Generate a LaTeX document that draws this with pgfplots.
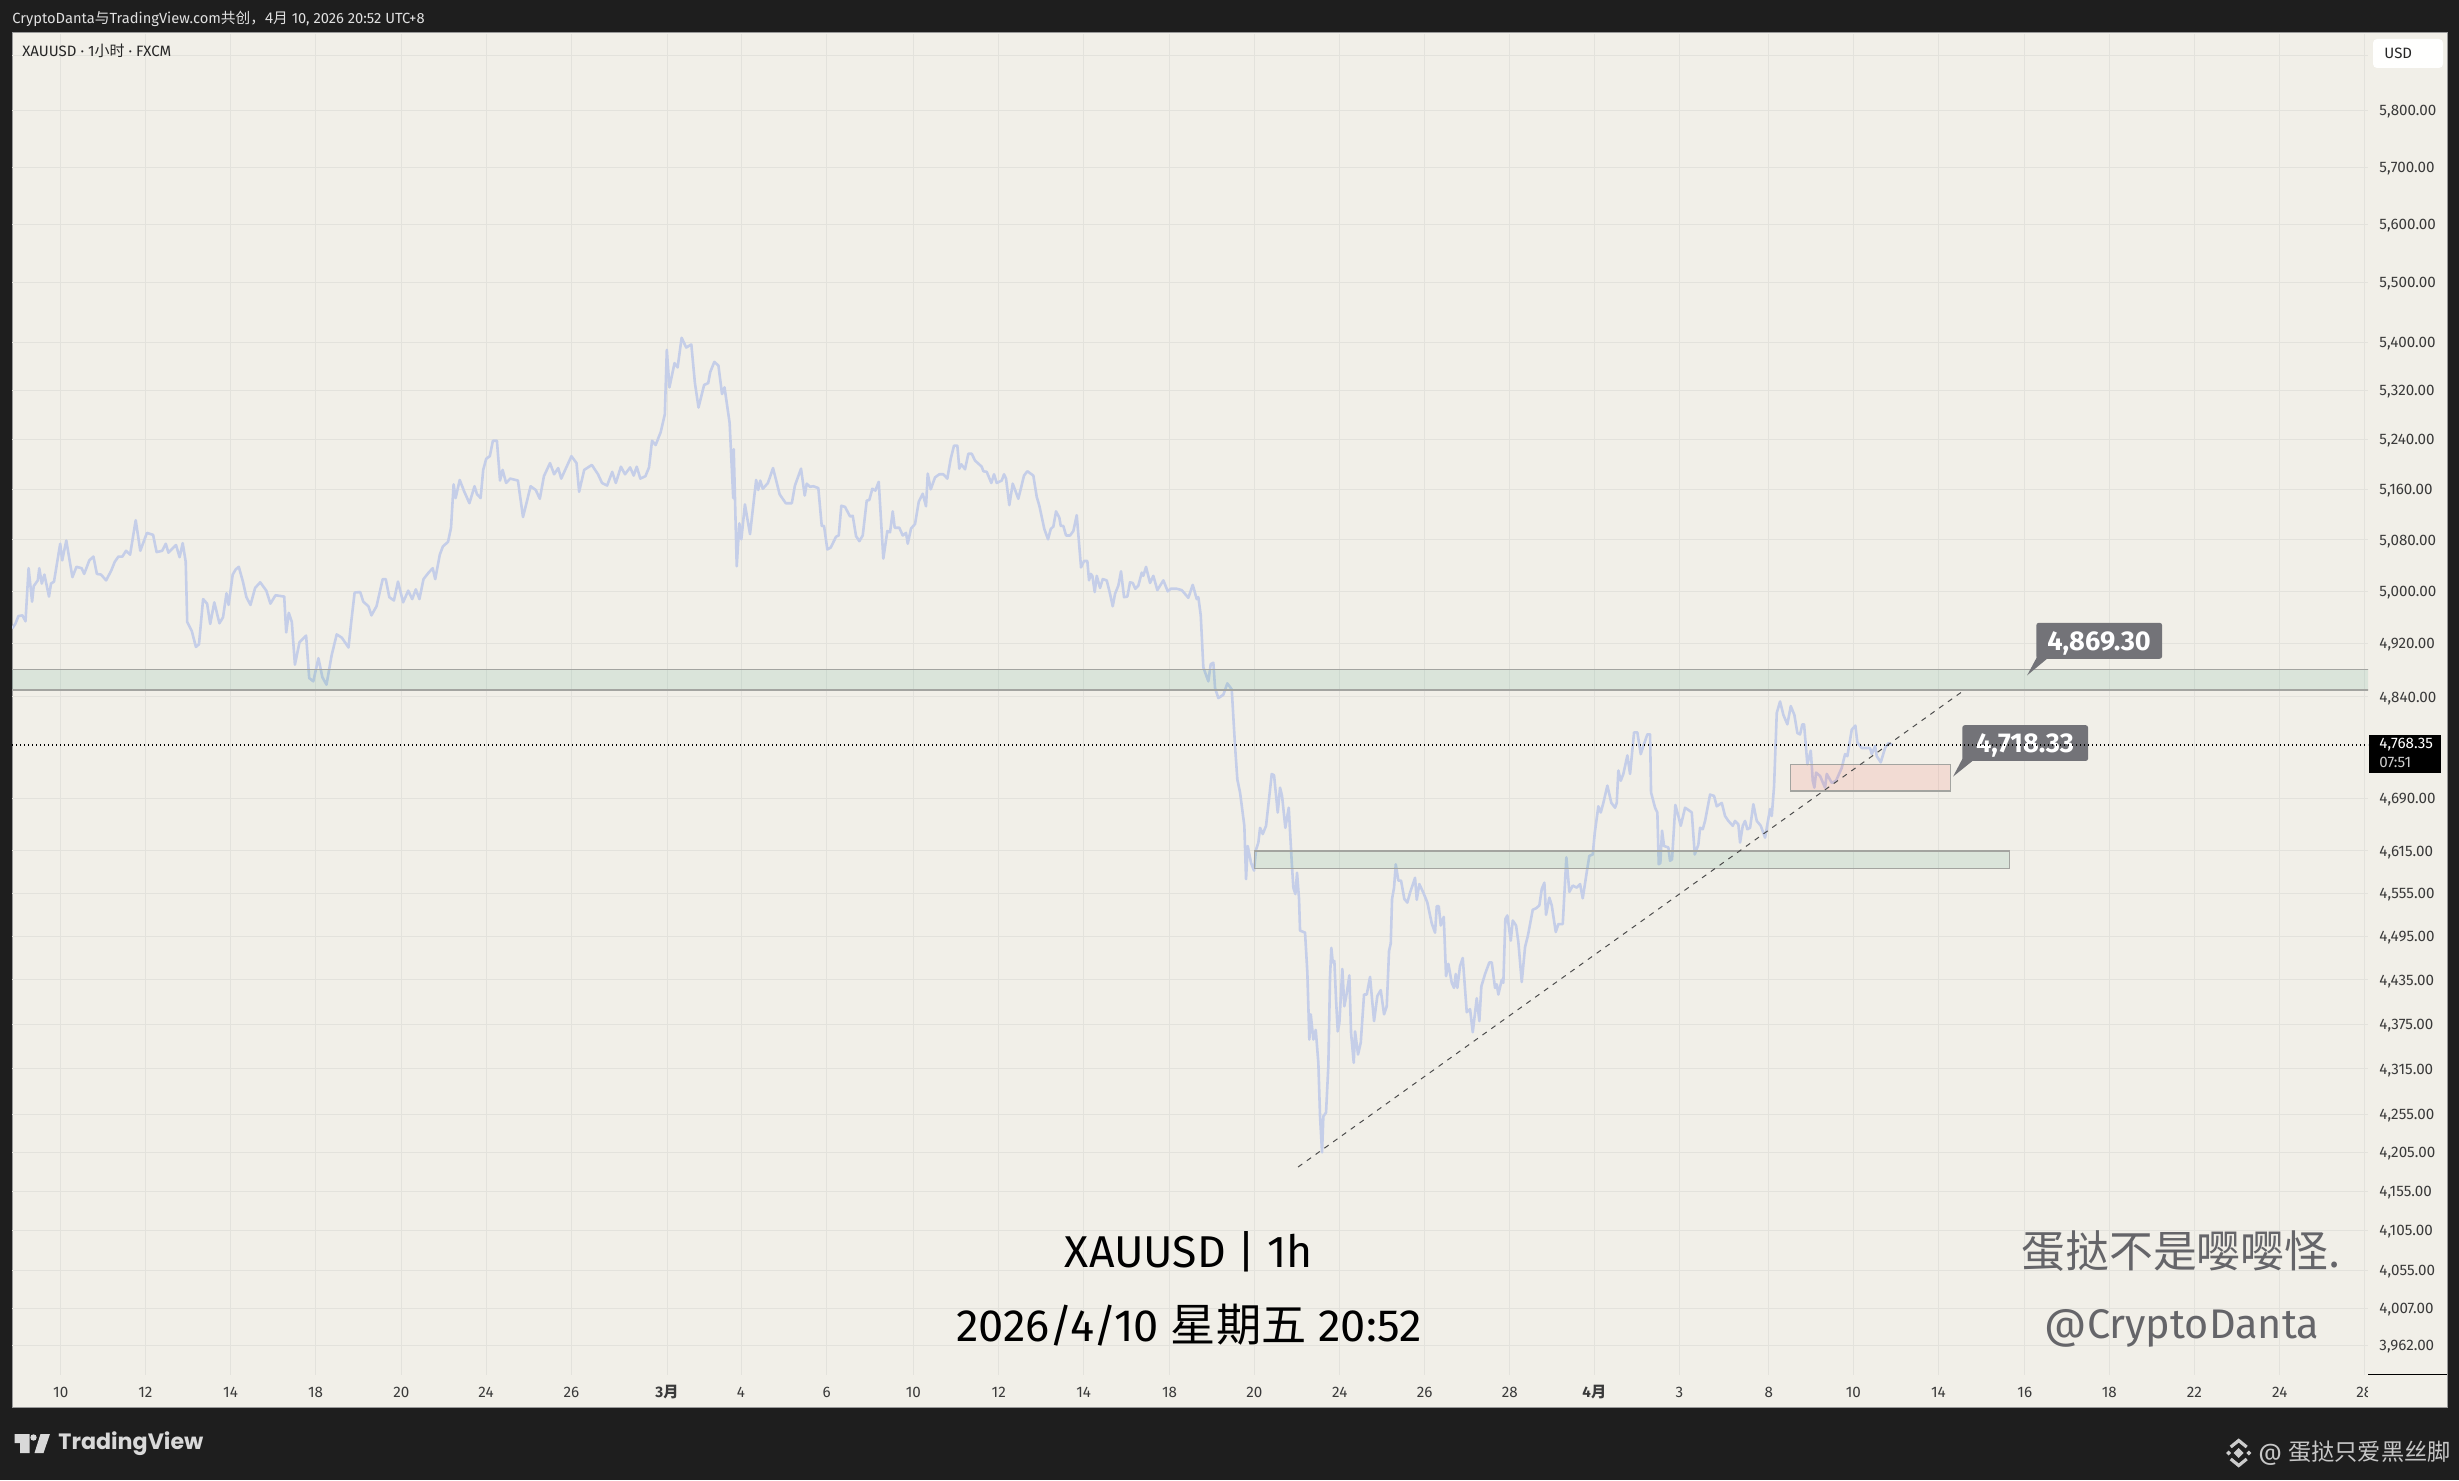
\documentclass[border=0pt]{standalone}
\usepackage{pgfplots}
\usepackage{pgfplotstable}
\usepackage{fontspec}
\pgfplotsset{compat=1.18}
\setmainfont{Fira Sans}
\newfontfamily\cjk{Noto Sans CJK SC}
\newfontfamily\tvfont{Poppins}
\definecolor{dark}{HTML}{1E1E1E}
\definecolor{pane}{HTML}{F1EFE8}
\definecolor{gridc}{HTML}{E3E2DC}
\definecolor{linec}{HTML}{C5CEE8}
\definecolor{zoneedge}{HTML}{A3A4A0}
\definecolor{zonegreen}{HTML}{46A082}
\definecolor{callout}{HTML}{737378}
\definecolor{wm}{HTML}{656569}
\definecolor{tick}{HTML}{3A3A3A}
\pgfplotstableread{
x y
12.2 4943
15.3 4950
18.4 4962
22.4 4963
25.5 4954
28.6 5036
32.1 4984
33.7 5008
37.8 5017
39.3 5036
41.8 5012
44.4 5026
49 4992
51 5012
54 5015
60.2 5074
62.2 5048
66.3 5079
72.4 5022
76.5 5038
81.6 5036
84.2 5027
89.3 5048
93.4 5054
96.9 5027
101 5026
106.1 5017
111.2 5032
114.8 5046
118.4 5054
122.4 5054
126 5063
130.1 5057
135.7 5111
140.3 5063
146.9 5091
153.1 5088
156.6 5061
162.2 5063
165.8 5074
168.4 5060
176 5072
179.6 5053
182.7 5075
185.7 5046
187.2 4953
191.8 4939
195.9 4915
199 4919
203.1 4988
207.1 4981
210.2 4950
214.3 4983
219.4 4951
223 4960
226.5 4997
228.6 4979
232.7 5026
235.7 5034
238.8 5038
242.9 5015
246.4 4991
250.5 4979
255.1 5005
260.2 5014
266.3 5001
270.4 4981
275.5 4994
284.2 4992
286.2 4937
288.8 4967
291.8 4953
294.9 4888
299.5 4922
306.1 4932
309.2 4868
313.3 4863
318.4 4898
322.4 4869
326.5 4858
331.6 4902
336.7 4934
341.8 4929
348.5 4914
351 4950
354.6 4998
360.2 4999
363.3 4984
368.4 4977
371.4 4963
376.5 4977
382.7 5019
385.7 5019
389.3 4991
393.9 4986
398 5015
403.1 4983
408.2 5001
412.2 4988
415.8 5003
419.4 4988
423.5 5019
428.6 5029
432.7 5036
435.2 5019
439.8 5057
442.9 5070
448 5077
451 5099
453.6 5168
455.6 5146
459.7 5175
464.3 5156
469.4 5138
474.5 5165
477 5152
480.6 5146
483.2 5191
486.2 5209
489.8 5213
492.9 5238
496.9 5238
500 5174
502.6 5191
506.1 5170
510.2 5177
517.9 5174
523 5116
530.6 5165
535.7 5159
539.8 5145
543.9 5181
550 5202
554.1 5184
558.2 5194
561.2 5177
571.4 5213
576.5 5202
579.1 5156
584.2 5191
591.8 5199
598 5184
602 5170
607.1 5166
612.2 5188
615.8 5170
620.9 5196
625 5184
630.1 5195
633.7 5182
636.7 5196
640.3 5177
645.4 5181
649 5195
652 5238
655.6 5231
660.7 5252
664.8 5281
666.8 5387
669.4 5325
674.5 5365
677.6 5358
681.6 5407
686.2 5391
691.3 5396
694.9 5332
698.5 5292
704.1 5329
708.2 5332
710.2 5350
714.3 5367
718.4 5361
722 5314
724.5 5325
729.6 5267
733.2 5146
733.7 5224
736.7 5039
739.3 5106
741.3 5081
744.9 5136
750 5089
756.1 5175
758.2 5159
760.2 5174
762.8 5161
767.9 5170
773 5194
779.6 5152
785.7 5138
791.8 5138
794.9 5166
801 5193
804.7 5150
806.7 5169
810 5164
813.3 5165
818.3 5162
821.7 5102
824 5102
827.3 5065
830.7 5068
836 5085
838.7 5087
841.3 5134
845 5132
850 5117
852.7 5118
856 5086
859.3 5078
862.7 5087
866.7 5142
869.3 5143
872.3 5161
875.3 5158
878.7 5172
883.3 5051
887.3 5094
890 5092
892.7 5125
894.7 5099
899.3 5099
902.7 5087
906 5091
907.7 5074
911 5098
915 5105
918.7 5140
922.7 5153
926 5133
927.7 5185
930.7 5160
935 5179
939.3 5184
943.3 5184
947.3 5177
950.7 5209
954 5230
957.3 5230
959.3 5193
961.3 5200
965 5192
968.3 5217
971.7 5217
975 5206
981.7 5196
983.3 5189
986.7 5188
991.3 5170
994 5184
996.7 5170
1001.7 5174
1004 5184
1006 5177
1009.3 5135
1012.7 5169
1018.3 5145
1024 5182
1027.3 5189
1033.3 5182
1036.7 5148
1039.3 5134
1044.3 5097
1048 5081
1050.7 5097
1053.3 5101
1056 5125
1059.3 5115
1060.7 5102
1063.3 5102
1066 5087
1070 5087
1073.3 5094
1076.7 5119
1081 5037
1084 5047
1087.3 5047
1089 5017
1090.7 5027
1092.3 5024
1094.7 4999
1096.7 5024
1100 5005
1102.7 5019
1106.7 5017
1110 4996
1112.7 4977
1115 4996
1118.3 5009
1121 5031
1124 4991
1127.3 4992
1130 5014
1132.7 5013
1135.3 5004
1138.3 5009
1141.7 5029
1143.3 5024
1146 5038
1150 5013
1153.3 5024
1157.3 5002
1163.3 5017
1167.7 5000
1170.7 5004
1176.7 5004
1181.7 5002
1188.3 4990
1192.7 5010
1196.7 4988
1198.3 4991
1200.7 4963
1203.3 4884
1208.3 4863
1210.7 4889
1213.3 4891
1215 4853
1218.3 4838
1223.3 4843
1227.3 4860
1231.7 4851
1235 4767
1237.3 4718
1240 4699
1244.3 4651
1246 4575
1247.7 4622
1251 4598
1254 4587
1256 4617
1258.3 4627
1260 4648
1262.7 4639
1266 4651
1269.3 4694
1271.7 4726
1274 4724
1277.7 4670
1280 4706
1282 4694
1285.3 4648
1288.7 4677
1291.7 4599
1293.3 4563
1295.3 4554
1297 4584
1299 4547
1300 4503
1305 4500
1307.3 4445
1309.3 4354
1310.7 4388
1313.3 4354
1315.7 4367
1318.3 4323
1320 4252
1322 4205
1323.3 4252
1326 4257
1328.3 4319
1330 4440
1331.3 4479
1332.7 4459
1334.3 4461
1336 4408
1337.7 4365
1339.3 4376
1342.3 4450
1344.3 4399
1346.7 4417
1349.3 4441
1351 4363
1353.7 4323
1355 4365
1358 4334
1360.7 4350
1364 4415
1366.7 4415
1370 4439
1374 4379
1377.3 4413
1380.7 4421
1384 4388
1386.7 4399
1389 4475
1390.7 4485
1392 4547
1394 4563
1395.7 4596
1398.3 4573
1401 4573
1404.3 4547
1407.3 4542
1410 4556
1415 4577
1416.7 4546
1419.3 4568
1423.3 4556
1427.3 4542
1431.7 4513
1435 4500
1436.7 4537
1438.7 4537
1440.7 4510
1443.7 4522
1446 4440
1448.3 4457
1451.7 4431
1454 4424
1455.7 4443
1457.3 4424
1460 4454
1462.7 4465
1466.7 4391
1470 4395
1472.7 4364
1476.7 4410
1479.3 4379
1481.3 4426
1485 4443
1489.3 4459
1491.7 4459
1495 4424
1496.7 4429
1498.3 4415
1501.7 4435
1503.3 4431
1505.3 4519
1507.3 4524
1510.7 4489
1512.7 4517
1516 4510
1518.3 4487
1521.7 4432
1525 4480
1528 4497
1532.7 4532
1536 4534
1539.3 4538
1541.7 4561
1544.3 4570
1546 4525
1549.3 4549
1551.7 4538
1555.7 4501
1558.3 4512
1562.7 4512
1566.3 4606
1569.3 4557
1572.7 4566
1576.7 4563
1580 4568
1582.7 4548
1586.7 4585
1589.3 4608
1592.7 4610
1594.7 4641
1598.3 4679
1600.7 4670
1603.3 4684
1607.3 4709
1611.3 4684
1615 4677
1616.7 4684
1618.3 4731
1620.7 4716
1623.3 4726
1627.3 4753
1630 4726
1634 4787
1637.3 4787
1640.7 4755
1644 4770
1647.3 4784
1650 4784
1651 4699
1655 4677
1657.3 4670
1658.7 4596
1660.3 4598
1662 4644
1664 4622
1668.3 4620
1670 4601
1672 4603
1675.3 4681
1678.3 4665
1680.7 4651
1685 4677
1690 4672
1691.7 4670
1694.7 4610
1698.3 4624
1700 4648
1702.7 4646
1705 4658
1710 4696
1714 4694
1716.7 4679
1721.7 4684
1725 4665
1728.3 4658
1732.7 4651
1735 4658
1738.3 4653
1740 4627
1742.7 4651
1745 4658
1747.3 4646
1750 4648
1753.3 4682
1756.7 4658
1760.7 4651
1765 4634
1770 4675
1771.7 4665
1774 4708
1776.7 4816
1780 4833
1783.3 4813
1787.3 4799
1790.7 4826
1794.3 4813
1797.3 4786
1800 4784
1802.3 4799
1804 4799
1807.3 4740
1810.7 4760
1812.7 4716
1814.3 4706
1816 4728
1820 4723
1825 4706
1826.7 4726
1831.7 4713
1836 4716
1841.7 4735
1845 4755
1847.3 4752
1851.7 4791
1855.3 4797
1857.3 4772
1861.7 4764
1870 4764
1871.7 4755
1875 4767
1876.7 4752
1880.7 4743
1885 4764
1888.3 4771
1892.7 4768.35
}\xauline
\begin{document}
\begin{tikzpicture}
\path[use as bounding box] (0,0) rectangle (1229.5pt,740pt);
\begin{scope}[x=0.5pt,y=-0.5pt,shift={(0pt,740pt)}]
\fill[dark] (0,0) rectangle (2459,1480);
\fill[pane,draw=gray!80,line width=0.5pt] (12,33) rectangle (2447,1407);
\end{scope}
\begin{axis}[
  at={(6pt,52.5pt)},anchor=south west,
  width=1178pt,height=670.5pt,scale only axis,
  xmin=12,xmax=2368,
  ymode=log,ymin=3926.5,ymax=5939.5,
  axis line style={draw=none},
  major tick length=0pt,
  xmajorgrids,ymajorgrids,
  grid style={gridc,line width=0.5pt},
  yticklabel pos=right,
  xtick={60.7,145.3,230.5,315.5,401.3,486,571.4,667,741,826.7,913.3,998.7,1083.7,1169.5,1254.3,1339.7,1424.7,1509.7,1594.3,1679.3,1768.7,1853.3,1938.3,2024.7,2109.3,2194.3,2279.7,2364.3},
  xticklabels={10,12,14,18,20,24,26,\textbf{3\cjk\bfseries 月},4,6,10,12,14,18,20,24,26,28,\textbf{4\cjk\bfseries 月},3,8,10,14,16,18,22,24,28},
  ytick={5900,5800,5700,5600,5500,5400,5320,5240,5160,5080,5000,4920,4840,4690,4615,4555,4495,4435,4375,4315,4255,4205,4155,4105,4055,4007,3962},
  yticklabels={{},{5,800.00},{5,700.00},{5,600.00},{5,500.00},{5,400.00},{5,320.00},{5,240.00},{5,160.00},{5,080.00},{5,000.00},{4,920.00},{4,840.00},{4,690.00},{4,615.00},{4,555.00},{4,495.00},{4,435.00},{4,375.00},{4,315.00},{4,255.00},{4,205.00},{4,155.00},{4,105.00},{4,055.00},{4,007.00},{3,962.00}},
  xticklabel style={anchor=base,yshift=-11.2pt,inner sep=0pt,text=tick,font=\fontsize{7.6}{9}\selectfont},
  yticklabel style={anchor=west,xshift=5.5pt,yshift=-0.7pt,inner sep=0pt,text=tick,font=\fontsize{7.6}{9}\selectfont},
]
\addplot[linec,line width=1.3pt,line join=round] table[x=x,y=y] {\xauline};
\addplot[fill=zonegreen,fill opacity=0.13,draw=zoneedge,line width=0.6pt] coordinates {(5,4881)(2375,4881)(2375,4850)(5,4850)} --cycle;
\addplot[fill=zonegreen,fill opacity=0.13,draw=zoneedge,line width=0.6pt] coordinates {(1254.3,4615)(2009.7,4615)(2009.7,4590)(1254.3,4590)} --cycle;
\addplot[fill=red!80!orange,fill opacity=0.09,draw=zoneedge,line width=0.6pt] coordinates {(1790.3,4740)(1950.7,4740)(1950.7,4701)(1790.3,4701)} --cycle;
\addplot[black!70,line width=0.5pt,dash pattern=on 2.6pt off 2.8pt] coordinates {(1298,4186)(1964.3,4850)};
\fill[callout,rounded corners=1.2pt] (axis cs:2036.3,4951.7) rectangle (axis cs:2162,4897);
\fill[callout] (axis cs:2037,4900) -- (axis cs:2049.3,4900) -- (axis cs:2027,4872) -- cycle;
\node[text=white,inner sep=0pt,font=\fontsize{13.6}{15}\selectfont\bfseries] at (axis cs:2099,4921) {4,869.30};
\fill[callout,rounded corners=1.2pt] (axis cs:1962.3,4797.7) rectangle (axis cs:2088,4745);
\fill[callout] (axis cs:1962.3,4748) -- (axis cs:1975,4748) -- (axis cs:1953,4722) -- cycle;
\node[text=white,inner sep=0pt,font=\fontsize{13.6}{15}\selectfont\bfseries] at (axis cs:2025,4768) {4,718.33};
\addplot[black,line width=0.6pt,dash pattern=on 0.7pt off 1.3pt] coordinates {(12,4768.35)(2368,4768.35)};
\end{axis}
\begin{scope}[x=0.5pt,y=-0.5pt,shift={(0pt,740pt)}]
% clip of the last time label, price-scale foot
\fill[pane] (2368,1376) rectangle (2446.7,1406.7);
\draw[black,line width=0.5pt] (2368,1374.5) -- (2446.7,1374.5);
% top strip
\node[anchor=west,inner sep=0pt,text=white!88!black,font=\fontsize{7.35}{9}\selectfont] at (12,19) {CryptoDanta{\cjk 与}TradingView.com{\cjk 共创，4月} 10, 2026 20:52 UTC+8};
\node[anchor=west,inner sep=0pt,text=black!85,font=\fontsize{7.5}{9}\selectfont] at (22,51) {XAUUSD · 1{\cjk 小时} · FXCM};
% currency button
\fill[white!98!pane,rounded corners=2pt] (2373,39) rectangle (2443,68);
\node[anchor=west,inner sep=0pt,text=black!85,font=\fontsize{7.5}{9}\selectfont] at (2384,53) {USD};
% last price tag
\fill[black] (2369,735) rectangle (2441,773);
\node[anchor=west,inner sep=0pt,text=white,font=\fontsize{7.6}{9}\selectfont] at (2379,745) {4,768.35};
\node[anchor=west,inner sep=0pt,text=white!80!black,font=\fontsize{7.6}{9}\selectfont] at (2379,762) {07:51};
% stamps
\node[inner sep=0pt,text=black,font=\fontsize{22.3}{25}\selectfont] at (1189,1252) {XAUUSD | 1h};
\node[inner sep=0pt,text=black,font=\fontsize{22.6}{25}\selectfont] at (1189,1325) {2026/4/10 {\cjk 星期五} 20:52};
\node[inner sep=0pt,text=wm,font=\fontsize{21.9}{24}\selectfont] at (2181,1251) {\cjk 蛋挞不是嘤嘤怪.};
\node[inner sep=0pt,text=wm,font=\fontsize{20.7}{24}\selectfont] at (2182,1328) {@CryptoDanta};
% footer
\fill[white!85!black] (14.5,1434) -- (29.5,1434) -- (29.5,1453) -- (20,1453) -- (20,1443) -- (14.5,1443) -- cycle;
\fill[white!85!black] (33.5,1437.5) circle (3.2);
\fill[white!85!black] (40.5,1434) -- (50,1434) -- (43.5,1453) -- (34.5,1453) -- cycle;
\node[anchor=west,inner sep=0pt,text=white!85!black,font=\fontsize{11.1}{13}\selectfont\tvfont\bfseries] at (58,1444) {TradingView};
\draw[white!80!black,line width=1.6pt] (2230.7,1447) -- (2238.7,1440.5) -- (2246.7,1447);
\draw[white!80!black,line width=1.6pt] (2230.7,1459) -- (2238.7,1465.5) -- (2246.7,1459);
\fill[white!80!black] (2238.7,1448) -- (2243.7,1453) -- (2238.7,1458) -- (2233.7,1453) -- cycle;
\fill[white!80!black] (2228.5,1450.5) -- (2231,1453) -- (2228.5,1455.5) -- (2226,1453) -- cycle;
\fill[white!80!black] (2248.9,1450.5) -- (2251.4,1453) -- (2248.9,1455.5) -- (2246.4,1453) -- cycle;
\node[anchor=west,inner sep=0pt,text=white!78!black,font=\fontsize{11.6}{13}\selectfont] at (2258,1453) {@ {\cjk 蛋挞只爱黑丝脚}};
\end{scope}
\end{tikzpicture}
\end{document}
